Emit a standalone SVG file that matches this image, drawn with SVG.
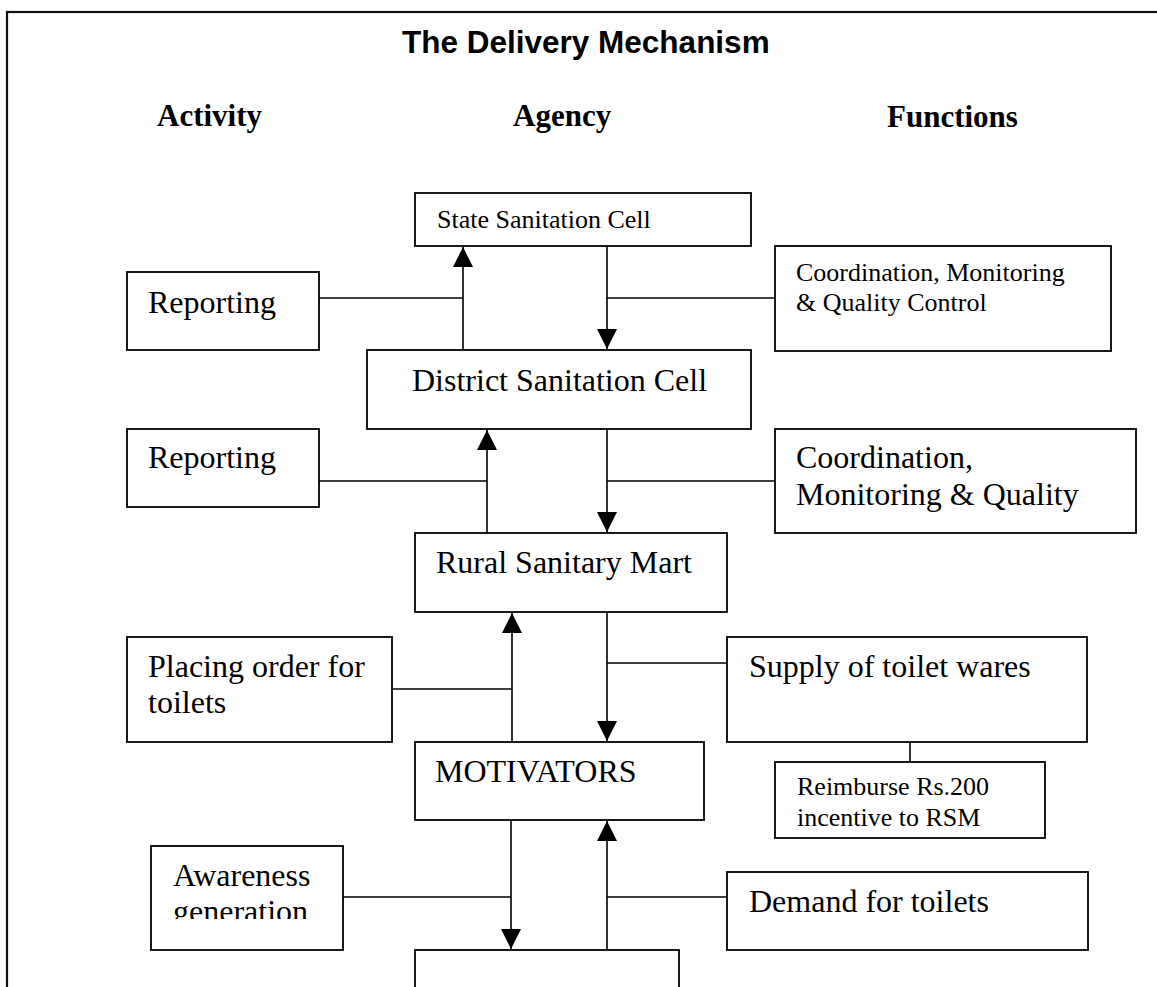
<svg xmlns="http://www.w3.org/2000/svg" width="1157" height="987" viewBox="0 0 1157 987">
<style>
.box{fill:#fff;stroke:#000;stroke-width:1.8}
.ln{fill:none;stroke:#000;stroke-width:1.6}
.t32{font-family:"Liberation Serif","Times New Roman",serif;font-size:32px;fill:#000}
.t26{font-family:"Liberation Serif","Times New Roman",serif;font-size:26px;fill:#000}
.hd{font-family:"Liberation Serif","Times New Roman",serif;font-size:31px;font-weight:bold;fill:#000}
.title{font-family:"Liberation Sans",Arial,sans-serif;font-size:31.5px;font-weight:bold;fill:#000}
</style>
<defs>
<marker id="arr" markerUnits="userSpaceOnUse" markerWidth="20" markerHeight="20" viewBox="0 0 20 20" refX="20" refY="10" orient="auto">
<path d="M0,0 L20,10 L0,20 z" fill="#000"/>
</marker>
<clipPath id="awClip"><rect x="151" y="846" width="192" height="73"/></clipPath>
</defs>
<rect x="0" y="0" width="1157" height="987" fill="#fff"/>
<rect x="7" y="12" width="1165" height="990" fill="none" stroke="#111" stroke-width="2.2"/>
<text class="title" x="402" y="53">The Delivery Mechanism</text>
<text class="hd" x="157" y="126">Activity</text>
<text class="hd" x="513" y="126">Agency</text>
<text class="hd" x="887" y="127">Functions</text>

<g id="connectors">
<line class="ln" x1="463" y1="350" x2="463" y2="247" marker-end="url(#arr)"/>
<line class="ln" x1="319" y1="298" x2="463" y2="298"/>
<line class="ln" x1="607" y1="246" x2="607" y2="349" marker-end="url(#arr)"/>
<line class="ln" x1="607" y1="298" x2="775" y2="298"/>
<line class="ln" x1="487" y1="533" x2="487" y2="430" marker-end="url(#arr)"/>
<line class="ln" x1="319" y1="481" x2="487" y2="481"/>
<line class="ln" x1="607" y1="429" x2="607" y2="532" marker-end="url(#arr)"/>
<line class="ln" x1="607" y1="481" x2="775" y2="481"/>
<line class="ln" x1="512" y1="742" x2="512" y2="613" marker-end="url(#arr)"/>
<line class="ln" x1="392" y1="689" x2="512" y2="689"/>
<line class="ln" x1="607" y1="612" x2="607" y2="741" marker-end="url(#arr)"/>
<line class="ln" x1="607" y1="663" x2="727" y2="663"/>
<line class="ln" x1="910" y1="742" x2="910" y2="762"/>
<line class="ln" x1="511" y1="820" x2="511" y2="949" marker-end="url(#arr)"/>
<line class="ln" x1="343" y1="897" x2="511" y2="897"/>
<line class="ln" x1="607" y1="950" x2="607" y2="821" marker-end="url(#arr)"/>
<line class="ln" x1="607" y1="897" x2="727" y2="897"/>
</g>

<g id="state">
<rect class="box" x="415" y="193" width="336" height="53"/>
<text class="t26" x="437" y="228">State Sanitation Cell</text>
</g>
<g id="reporting1">
<rect class="box" x="127" y="272" width="192" height="78"/>
<text class="t32" x="148" y="313">Reporting</text>
</g>
<g id="coord1">
<rect class="box" x="775" y="246" width="336" height="105"/>
<text class="t26" x="796" y="281">Coordination, Monitoring</text>
<text class="t26" x="796" y="311">&amp; Quality Control</text>
</g>
<g id="district">
<rect class="box" x="367" y="350" width="384" height="79"/>
<text class="t32" x="412" y="391">District Sanitation Cell</text>
</g>
<g id="reporting2">
<rect class="box" x="127" y="429" width="192" height="78"/>
<text class="t32" x="148" y="468">Reporting</text>
</g>
<g id="coord2">
<rect class="box" x="775" y="429" width="361" height="104"/>
<text class="t32" x="796" y="468">Coordination,</text>
<text class="t32" x="796" y="505">Monitoring &amp; Quality</text>
</g>
<g id="rsm">
<rect class="box" x="415" y="533" width="312" height="79"/>
<text class="t32" x="436" y="573">Rural Sanitary Mart</text>
</g>
<g id="placing">
<rect class="box" x="127" y="637" width="265" height="105"/>
<text class="t32" x="148" y="677">Placing order for</text>
<text class="t32" x="148" y="713">toilets</text>
</g>
<g id="supply">
<rect class="box" x="727" y="637" width="360" height="105"/>
<text class="t32" x="749" y="677">Supply of toilet wares</text>
</g>
<g id="motivators">
<rect class="box" x="415" y="742" width="289" height="78"/>
<text class="t32" x="435" y="782">MOTIVATORS</text>
</g>
<g id="reimburse">
<rect class="box" x="775" y="762" width="270" height="76"/>
<text class="t26" x="797" y="795">Reimburse Rs.200</text>
<text class="t26" x="797" y="826">incentive to RSM</text>
</g>
<g id="awareness">
<rect class="box" x="151" y="846" width="192" height="104"/>
<g clip-path="url(#awClip)">
<text class="t32" x="173" y="886">Awareness</text>
<text class="t32" x="173" y="922">generation</text>
</g>
</g>
<g id="demand">
<rect class="box" x="727" y="872" width="361" height="78"/>
<text class="t32" x="749" y="912">Demand for toilets</text>
</g>
<g id="bottom">
<rect class="box" x="415" y="950" width="264" height="60"/>
</g>
</svg>
